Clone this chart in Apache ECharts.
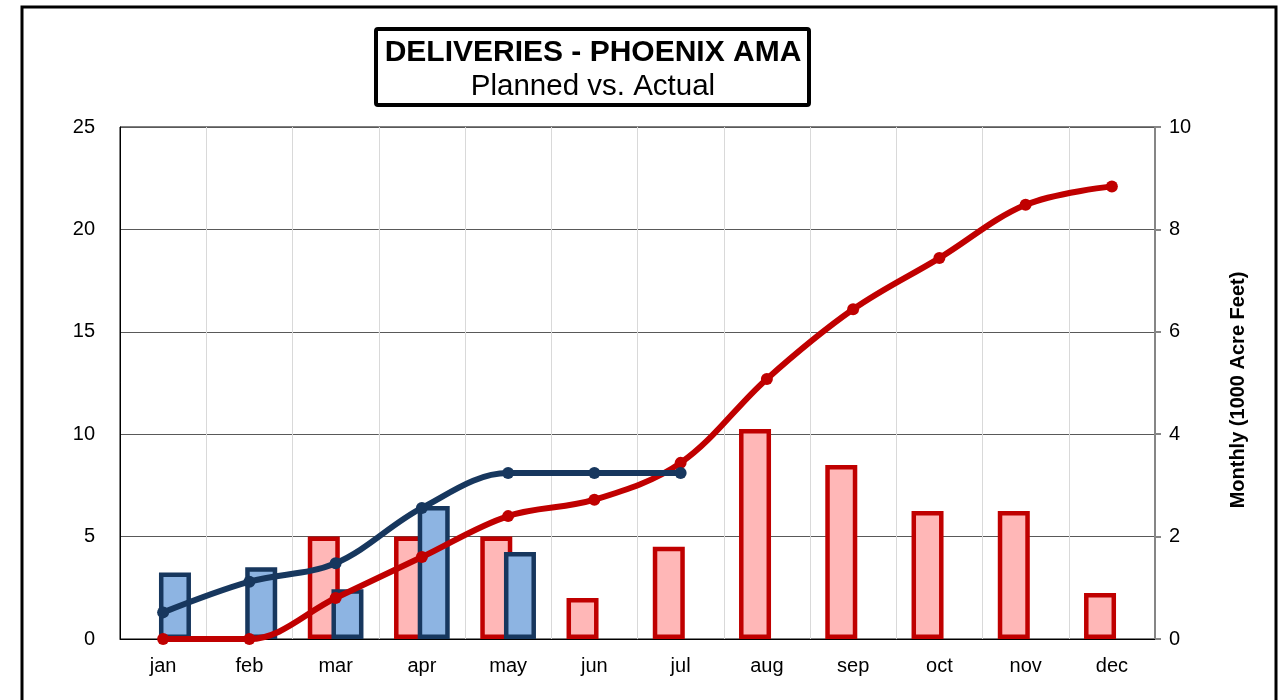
<!DOCTYPE html>
<html>
<head>
<meta charset="utf-8">
<script src="https://cdn.jsdelivr.net/npm/echarts@6/dist/echarts.min.js"></script>
<style>
  html, body { margin: 0; padding: 0; background: #fff; }
  #chart { width: 1287px; height: 700px; }
</style>
</head>
<body>
<div id="chart"></div>
<script>
  // months
  const months = ['jan', 'feb', 'mar', 'apr', 'may', 'jun', 'jul', 'aug', 'sep', 'oct', 'nov', 'dec'];
  // monthly deliveries (right axis, 1000 AF)
  const plannedMonthly = [null, null, 2.0, 2.0, 2.0, 0.8, 1.8, 4.1, 3.4, 2.5, 2.5, 0.9];
  const actualMonthly = [1.3, 1.4, 0.97, 2.6, 1.7, null, null, null, null, null, null, null];
  // cumulative (left axis)
  const plannedCumulative = [0, 0, 2.0, 4.0, 6.0, 6.8, 8.6, 12.7, 16.1, 18.6, 21.2, 22.1];
  const actualCumulative = [1.3, 2.8, 3.7, 6.4, 8.1, 8.1, 8.1, null, null, null, null, null];
  const leftTicks = [0, 5, 10, 15, 20, 25];
  const rightTicks = [0, 2, 4, 6, 8, 10];

  const RED = '#C00000';
  const PINK = '#FFB7B7';
  const NAVY = '#17375E';
  const LIGHTBLUE = '#8DB4E2';
  const FONT = "'Liberation Sans', Arial, sans-serif";

  const chart = echarts.init(document.getElementById('chart'));
  chart.setOption({
    animation: false,
    textStyle: { fontFamily: FONT },
    graphic: [
      {
        type: 'rect',
        shape: { x: 22, y: 7, width: 1254, height: 720 },
        style: { fill: 'none', stroke: '#000', lineWidth: 3 },
        z: 10
      },
      {
        type: 'rect',
        shape: { x: 376, y: 29, width: 433, height: 76, r: 2 },
        style: { fill: '#fff', stroke: '#000', lineWidth: 4 },
        z: 10
      },
      {
        type: 'text',
        x: 593, y: 53,
        style: { text: 'DELIVERIES - PHOENIX AMA', fontFamily: FONT, fontSize: 30, fontWeight: 'bold', fill: '#000', align: 'center', verticalAlign: 'middle' },
        z: 11
      },
      {
        type: 'text',
        x: 593, y: 87,
        style: { text: 'Planned vs. Actual', fontFamily: FONT, fontSize: 29.5, fill: '#000', align: 'center', verticalAlign: 'middle' },
        z: 11
      }
    ],
    grid: {
      left: 120, right: 132, top: 127, bottom: 61,
      show: true, borderColor: '#000', borderWidth: 1
    },
    xAxis: {
      type: 'category',
      data: months,
      axisLine: { lineStyle: { color: '#000', width: 1 } },
      axisTick: { show: false },
      axisLabel: { color: '#000', fontSize: 20, fontFamily: FONT, margin: 17 },
      splitLine: { show: true, interval: 0, lineStyle: { color: '#D9D9D9' } }
    },
    yAxis: [
      {
        type: 'value',
        min: leftTicks[0], max: leftTicks[leftTicks.length - 1], interval: 5,
        axisLine: { show: true, lineStyle: { color: '#000' } },
        axisTick: { show: false },
        axisLabel: { color: '#000', fontSize: 20, fontFamily: FONT, margin: 25 },
        splitLine: { lineStyle: { color: '#595959' } }
      },
      {
        type: 'value',
        position: 'right',
        min: rightTicks[0], max: rightTicks[rightTicks.length - 1], interval: 2,
        name: 'Monthly (1000 Acre Feet)',
        nameLocation: 'middle',
        nameRotate: 90,
        nameGap: 73,
        nameTextStyle: { color: '#000', fontSize: 20, fontWeight: 'bold', fontFamily: FONT, padding: [0, 0, 0, -14] },
        axisLine: { show: true, lineStyle: { color: '#868686', width: 2 } },
        axisTick: { show: true, length: 6, lineStyle: { color: '#868686', width: 2 } },
        axisLabel: { color: '#000', fontSize: 20, fontFamily: FONT, margin: 14 },
        splitLine: { show: false }
      }
    ],
    series: [
      {
        name: 'Planned monthly',
        type: 'bar',
        yAxisIndex: 1,
        data: plannedMonthly,
        barWidth: 32,
        barGap: '-26%',
        itemStyle: { color: PINK, borderColor: RED, borderWidth: 4.5 }
      },
      {
        name: 'Actual monthly',
        type: 'bar',
        yAxisIndex: 1,
        data: actualMonthly,
        barWidth: 32,
        barGap: '-26%',
        itemStyle: { color: LIGHTBLUE, borderColor: NAVY, borderWidth: 4.5 }
      },
      {
        name: 'Planned cumulative',
        type: 'line',
        yAxisIndex: 0,
        data: plannedCumulative,
        smooth: 0.35,
        symbol: 'circle',
        symbolSize: 12,
        lineStyle: { color: RED, width: 6 },
        itemStyle: { color: RED },
        z: 5
      },
      {
        name: 'Actual cumulative',
        type: 'line',
        yAxisIndex: 0,
        data: actualCumulative,
        smooth: 0.35,
        symbol: 'circle',
        symbolSize: 12,
        lineStyle: { color: NAVY, width: 6 },
        itemStyle: { color: NAVY },
        z: 6
      }
    ]
  });
</script>
</body>
</html>
